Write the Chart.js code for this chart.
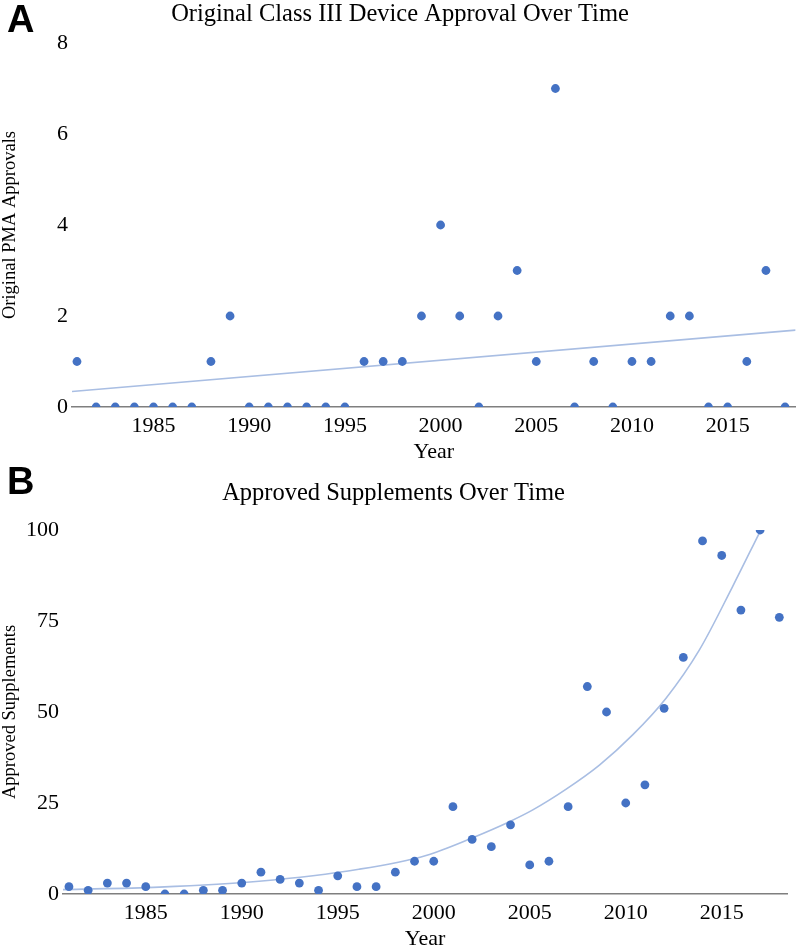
<!DOCTYPE html>
<html>
<head>
<meta charset="utf-8">
<script src="https://cdn.jsdelivr.net/npm/chart.js@4.4.1/dist/chart.umd.min.js"></script>
<style>
  body { margin: 0; background: #fff; }
  #wrap { position: relative; width: 800px; height: 947px; }
  .panel { position: absolute; left: 0; width: 800px; }
  .letter { position: absolute; left: 7px; font: bold 38px "Liberation Sans", Arial, sans-serif; line-height: 1; color: #000; }
</style>
</head>
<body>
<div id="wrap">
  <div class="panel" style="top:0;height:460px"><canvas id="chartA"></canvas></div>
  <div class="panel" style="top:460px;height:487px"><canvas id="chartB"></canvas></div>
  <div class="letter" style="top:0">A</div>
  <div class="letter" style="top:462px">B</div>
</div>
<script>
const years = [1981, 1982, 1983, 1984, 1985, 1986, 1987, 1988, 1989, 1990,
  1991, 1992, 1993, 1994, 1995, 1996, 1997, 1998, 1999, 2000,
  2001, 2002, 2003, 2004, 2005, 2006, 2007, 2008, 2009, 2010,
  2011, 2012, 2013, 2014, 2015, 2016, 2017, 2018];

// panel A: original PMA approvals per year
const approvals = [1, 0, 0, 0, 0, 0, 0, 1, 2, 0,
  0, 0, 0, 0, 0, 1, 1, 1, 2, 4,
  2, 0, 2, 3, 1, 7, 0, 1, 0, 1,
  1, 2, 2, 0, 0, 1, 3, 0];

// panel B: approved supplements per year
const supplements = [2, 1, 3, 3, 2, 0, 0, 1, 1, 3,
  6, 4, 3, 1, 5, 2, 2, 6, 9, 9,
  24, 15, 13, 19, 8, 9, 24, 57, 50, 25,
  30, 51, 65, 97, 93, 78, 100, 76];

// trend lines
const trendAYears = [1980.74, 2018.55];
const trendAValues = [0.34, 1.69];
const trendBYears = [1980.6, 1985.7, 1990.9, 1996.1, 1999.6, 2002.0, 2004.0, 2005.16, 2006.9, 2008.63, 2010.36, 2012.1, 2013.83, 2015.56, 2016.95];
const trendBValues = [1.2, 1.9, 3.5, 6.8, 10.6, 15.4, 20.0, 23.1, 28.8, 35.4, 43.7, 53.8, 67.0, 84.4, 99.1];

const xTicks = [1985, 1990, 1995, 2000, 2005, 2010, 2015];
const yTicksA = [0, 2, 4, 6, 8];
const yTicksB = [0, 25, 50, 75, 100];

const serif = "'Liberation Serif', 'Times New Roman', serif";
const dotColor = "#4472C4";
const trendColor = "#A9BEE3";

function points(xs, ys) {
  return xs.map((x, i) => ({ x: x, y: ys[i] }));
}

function makeChart(id, cfg) {
  const ctx = document.getElementById(id).getContext("2d");
  return new Chart(ctx, {
    type: "scatter",
    data: {
      datasets: [{
        data: points(years, cfg.values),
        backgroundColor: dotColor,
        borderWidth: 0,
        pointRadius: 4.4,
        pointHoverRadius: 4.4,
        clip: 0
      }, {
        type: "line",
        data: points(cfg.trendX, cfg.trendY),
        borderColor: trendColor,
        borderWidth: 1.6,
        pointRadius: 0,
        fill: false,
        cubicInterpolationMode: "monotone",
        clip: 0
      }]
    },
    options: {
      responsive: true,
      maintainAspectRatio: false,
      animation: false,
      layout: { padding: { left: 0, right: cfg.padRight, top: 0, bottom: 0 } },
      plugins: {
        legend: { display: false },
        tooltip: { enabled: false },
        title: {
          display: true,
          text: cfg.title,
          color: "#000",
          font: { family: serif, size: 24.5, weight: "normal", lineHeight: 1 },
          padding: { top: cfg.titleTop, bottom: cfg.titleBottom }
        }
      },
      scales: {
        x: {
          type: "linear",
          min: cfg.xMin,
          max: cfg.xMax,
          grid: { display: false, drawTicks: false },
          border: { display: true, color: "#7f7f7f", width: 1.5 },
          afterBuildTicks: s => { s.ticks = xTicks.map(v => ({ value: v })); },
          afterFit: s => { s.height = 53; },
          ticks: {
            color: "#000",
            padding: 6,
            maxRotation: 0,
            font: { family: serif, size: 22 },
            callback: v => String(v)
          },
          title: {
            display: true,
            text: "Year",
            color: "#000",
            padding: 0,
            font: { family: serif, size: 22, lineHeight: 0.75 }
          }
        },
        y: {
          min: 0,
          max: cfg.yMax,
          grid: { display: false, drawTicks: false },
          border: { display: false },
          afterBuildTicks: s => { s.ticks = cfg.yTicks.map(v => ({ value: v })); },
          afterFit: s => { s.width = cfg.yWidth; },
          ticks: {
            color: "#000",
            padding: 4,
            font: { family: serif, size: 22 },
            callback: v => String(v)
          },
          title: {
            display: true,
            text: cfg.yTitle,
            color: "#000",
            padding: 0,
            font: { family: serif, size: 18.5, lineHeight: 1.1 }
          }
        }
      }
    }
  });
}

makeChart("chartA", {
  title: "Original Class III Device Approval Over Time",
  yTitle: "Original PMA Approvals",
  values: approvals,
  trendX: trendAYears,
  trendY: trendAValues,
  yTicks: yTicksA,
  yMax: 8,
  xMin: 1980.74,
  xMax: 2018.55,
  yWidth: 72,
  padRight: 0,
  titleTop: 2,
  titleBottom: 16.5
});

makeChart("chartB", {
  title: "Approved Supplements Over Time",
  yTitle: "Approved Supplements",
  values: supplements,
  trendX: trendBYears,
  trendY: trendBValues,
  yTicks: yTicksB,
  yMax: 100,
  xMin: 1980.69,
  xMax: 2018.4,
  yWidth: 63,
  padRight: 13,
  titleTop: 21,
  titleBottom: 24.5
});
</script>
</body>
</html>
